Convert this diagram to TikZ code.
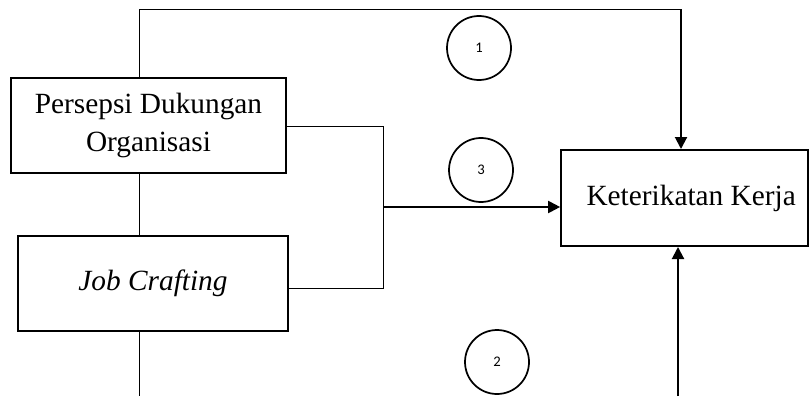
\documentclass[tikz,border=0pt]{standalone}
\usepackage{fontspec}
\setmainfont{Liberation Serif}
\newfontfamily\numfont{Carlito}
\usetikzlibrary{arrows.meta}
\begin{document}
\begin{tikzpicture}[x=0.75pt,y=-0.75pt,
  varbox/.style={draw,line width=1.5pt,inner sep=0pt,font=\fontsize{22}{28.5}\selectfont,align=center},
  thin/.style={line width=0.75pt},
  flow/.style={line width=1.5pt,-{Triangle[length=9pt,width=9pt]}},
  numcirc/.style={circle,draw,line width=1.3pt,minimum size=48pt,inner sep=0pt,font=\numfont\fontsize{11}{13}\selectfont}]
\useasboundingbox (0,0) rectangle (809,396);
% variable boxes
\node[varbox,minimum width=206pt,minimum height=71pt] (pdo) at (148.5,125.5) {Persepsi Dukungan\\Organisasi};
\node[varbox,minimum width=202pt,minimum height=71pt] (jc) at (153,283.5) {\itshape Job Crafting};
\node[varbox,minimum width=185pt,minimum height=72pt] (kk) at (684.5,198) {\hspace*{10pt}Keterikatan Kerja};
% path numbers
\node[numcirc] (n1) at (479,48) {1};
\node[numcirc] (n3) at (481,170) {3};
\node[numcirc] (n2) at (497,362) {2};
% junction points
\coordinate (top) at (139,9);
\coordinate (topR) at (681,9);
\coordinate (jn) at (383,126);
\coordinate (js) at (383,288);
\coordinate (jm) at (383,207);
\coordinate (bot) at (139,396);
\coordinate (botR) at (678,396);
% path 1
\draw[thin] (pdo.north -| top) -- (top) -- (topR);
\draw[flow] (topR) -- (kk.north -| topR);
% path 2
\draw[thin] (pdo.south -| top) -- (jc.north -| top);
\draw[thin] (jc.south -| bot) -- (bot);
\draw[flow] (botR) -- (kk.south -| botR);
% path 3
\draw[thin] (pdo.east |- jn) -- (jn) -- (js) -- (jc.east |- js);
\draw[flow] (jm) -- (kk.west |- jm);
\end{tikzpicture}
\end{document}
